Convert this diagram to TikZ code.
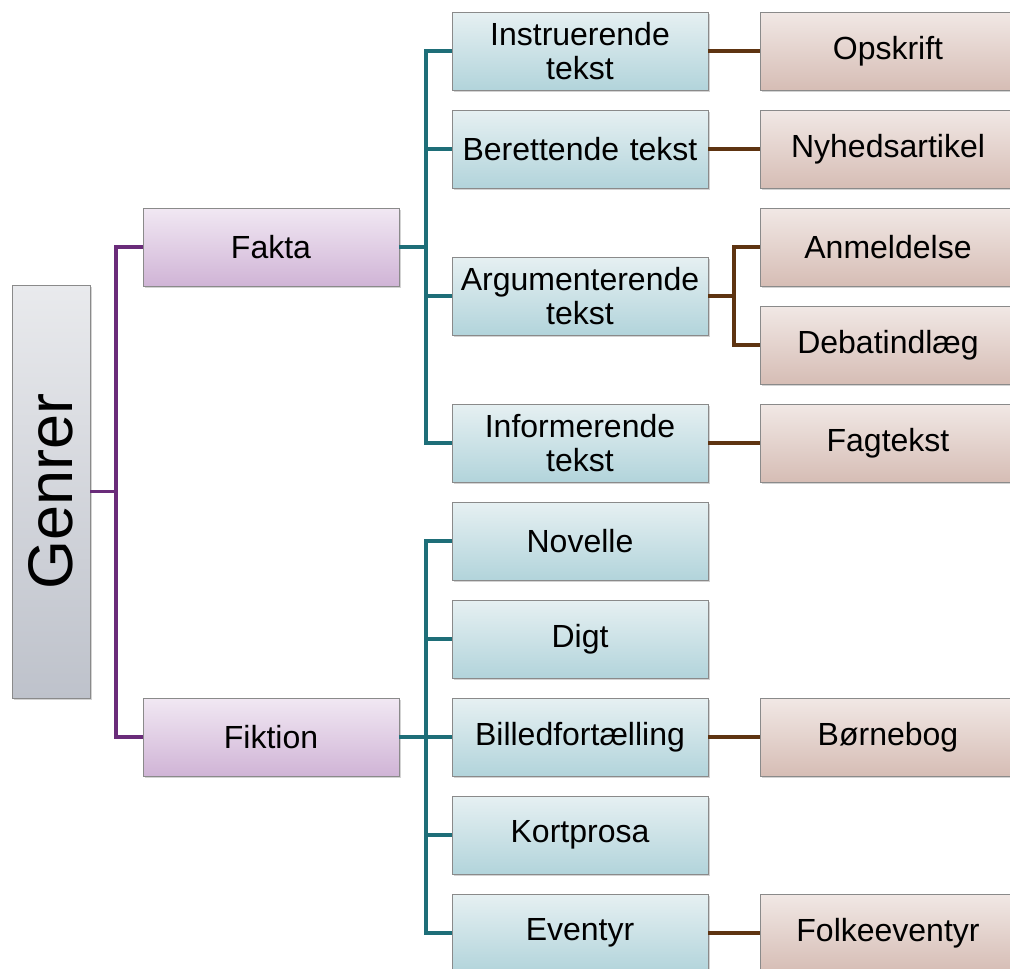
\documentclass[tikz,border=0pt]{standalone}
\usepackage{fontspec}
\setmainfont{Liberation Sans}
\usetikzlibrary{shadows}
\definecolor{purpleline}{HTML}{6A2C7A}
\definecolor{tealline}{HTML}{1E6E78}
\definecolor{brownline}{HTML}{5E3411}
\definecolor{boxborder}{HTML}{8A8A8A}
\tikzset{
  box/.style={rectangle, draw=boxborder, line width=0.9pt, minimum width=256pt, minimum height=78pt,
    text width=250pt, align=center, inner sep=0pt, font=\fontsize{32}{34}\selectfont,
    drop shadow={shadow xshift=1.5pt, shadow yshift=-2pt, opacity=0.35, fill=black!50}},
  rootbox/.style={box, minimum width=78pt, minimum height=413pt, text width=},
  lvlone/.style={box},
  lvltwo/.style={box},
  lvlthree/.style={box},
  pline/.style={draw=purpleline, line width=3.8pt},
  tline/.style={draw=tealline, line width=3.8pt},
  bline/.style={draw=brownline, line width=3.8pt},
}
\begin{document}
\begin{tikzpicture}[x=1pt,y=-1pt]
\useasboundingbox (0,0) rectangle (1010,969);
\clip (0,0) rectangle (1010,969);
% root
\node[rootbox, top color={rgb,255:red,233;green,234;blue,237}, bottom color={rgb,255:red,190;green,194;blue,203}] (genrer) at (51,491.5) {\rotatebox{90}{\fontsize{63}{63}\selectfont Genrer}};
% level one
\tikzset{pcol/.style={top color={rgb,255:red,241;green,232;blue,243}, bottom color={rgb,255:red,208;green,180;blue,214}}}
\node[lvlone, pcol] (fakta) at (271,247) {Fakta};
\node[lvlone, pcol] (fiktion) at (271,737) {Fiktion};
% level two
\tikzset{tcol/.style={top color={rgb,255:red,230;green,240;blue,242}, bottom color={rgb,255:red,178;green,212;blue,219}}}
\node[lvltwo, tcol] (instr) at (580,51) {Instruerende\\tekst};
\node[lvltwo, tcol] (beret) at (580,149) {Berettende tekst};
\node[lvltwo, tcol] (argum) at (580,296) {Argumenterende\\tekst};
\node[lvltwo, tcol] (infor) at (580,443) {Informerende\\tekst};
\node[lvltwo, tcol] (novel) at (580,541) {Novelle};
\node[lvltwo, tcol] (digt) at (580,639) {Digt};
\node[lvltwo, tcol] (bille) at (580,737) {Billedfortælling};
\node[lvltwo, tcol] (kortp) at (580,835) {Kortprosa};
\node[lvltwo, tcol] (event) at (580,933) {Eventyr};
% level three
\tikzset{bcol/.style={top color={rgb,255:red,241;green,232;blue,229}, bottom color={rgb,255:red,214;green,189;blue,181}}}
\node[lvlthree, bcol] (opskr) at (888,51) {Opskrift};
\node[lvlthree, bcol] (nyhed) at (888,149) {Nyhedsartikel};
\node[lvlthree, bcol] (anmel) at (888,247) {Anmeldelse};
\node[lvlthree, bcol] (debat) at (888,345) {Debatindlæg};
\node[lvlthree, bcol] (fagte) at (888,443) {Fagtekst};
\node[lvlthree, bcol] (borne) at (888,737) {Børnebog};
\node[lvlthree, bcol] (folke) at (888,933) {Folkeeventyr};
% connectors
\coordinate (pj) at (116,491.5);
\draw[pline] (genrer.east) -- (pj);
\draw[pline] (fakta.west) -| (pj) |- (fiktion.west);
\coordinate (fj) at (426,247);
\draw[tline] (fakta.east) -- (fj);
\foreach \t in {instr,beret,argum,infor} \draw[tline] (fj) |- (\t.west);
\coordinate (kj) at (426,737);
\draw[tline] (fiktion.east) -- (kj);
\foreach \t in {novel,digt,bille,kortp,event} \draw[tline] (kj) |- (\t.west);
\draw[bline] (instr.east) -- (opskr.west);
\draw[bline] (beret.east) -- (nyhed.west);
\coordinate (aj) at (734,296);
\draw[bline] (argum.east) -- (aj);
\draw[bline] (aj) |- (anmel.west);
\draw[bline] (aj) |- (debat.west);
\draw[bline] (infor.east) -- (fagte.west);
\draw[bline] (bille.east) -- (borne.west);
\draw[bline] (event.east) -- (folke.west);
\end{tikzpicture}
\end{document}
